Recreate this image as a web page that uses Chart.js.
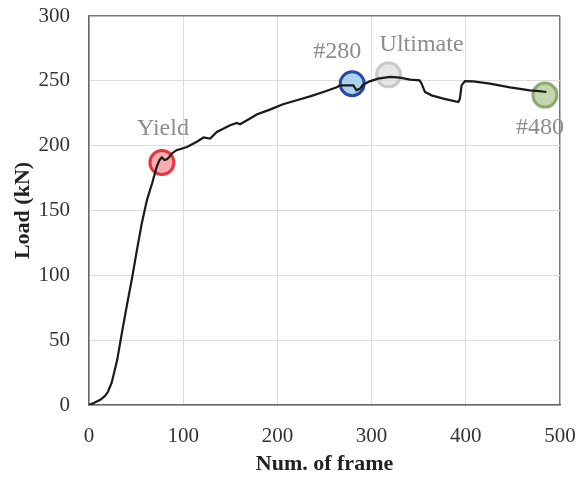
<!DOCTYPE html>
<html>
<head>
<meta charset="utf-8">
<script src="https://cdn.jsdelivr.net/npm/chart.js@4/dist/chart.umd.min.js"></script>
<style>
  html, body { margin: 0; padding: 0; background: #fff; }
  #wrap { width: 579px; height: 480px; }
</style>
</head>
<body>
<div id="wrap"><canvas id="chart"></canvas></div>
<script>
// load curve
const frames = [0, 5, 12, 17, 20, 24, 27, 30, 35, 40, 46, 51, 56, 61.5, 67, 72, 75, 77.4, 80, 82.7, 85, 88,
    93, 104, 114.5, 121.5, 128.6, 135.7, 149.8, 157, 160.4, 171, 178, 192, 206, 220.5, 234.7, 248.8, 263,
    266.5, 273.6, 280.6, 284, 287.7, 291, 298, 307, 319.5, 330, 340.7, 351, 353, 356.6, 363.7, 376, 392,
    393.7, 395.5, 399, 408, 425.5, 447, 468, 478, 485.6];
const loads = [0, 1.5, 4, 7, 10, 17, 26, 35, 56, 76, 99, 120, 140, 158, 171, 184, 189, 191, 189, 189.5, 191, 194,
    196.5, 199, 203, 206.3, 205.5, 210.6, 215.8, 217.5, 216.5, 221, 224, 227.8, 232, 235, 238, 241.4, 245,
    246.5, 246.5, 246.5, 242.7, 244, 247, 249.6, 251.7, 253, 252.5, 251, 250.4, 248, 241.4, 238.8, 236.3, 233.7,
    236, 246.5, 249.8, 249.6, 247.8, 245, 242.7, 242, 241.4];

// marked frames
const markNames = ['Yield', '#280', 'Ultimate', '#480'];
const markFrames = [77.4, 279.4, 318, 484];
const markLoads = [187, 247.8, 254.6, 239];
const markFill = ['rgba(240,120,125,0.6)', 'rgba(150,200,235,0.8)', 'rgba(215,215,215,0.6)', 'rgba(175,200,150,0.75)'];
const markBorder = ['#e8333a', '#2a48a6', '#c9c9c9', '#8aaa72'];
// label offsets in px from the marker (dx, dy to baseline)
const labelDx = [1, -15, 33, -5];
const labelDy = [-28, -26, -24, 39];

const xTicks = [0, 100, 200, 300, 400, 500];
const yTicks = [0, 50, 100, 150, 200, 250, 300];

const serif = '"Liberation Serif", "Times New Roman", serif';

const markLabels = {
    id: 'markLabels',
    afterDatasetsDraw(chart) {
        const { ctx, scales: { x, y } } = chart;
        ctx.save();
        ctx.font = '24px ' + serif;
        ctx.fillStyle = '#8c8c8c';
        ctx.textAlign = 'center';
        ctx.textBaseline = 'alphabetic';
        markNames.forEach((name, i) => {
            const px = x.getPixelForValue(markFrames[i]);
            const py = y.getPixelForValue(markLoads[i]);
            ctx.fillText(name, px + labelDx[i], py + labelDy[i]);
        });
        ctx.restore();
    }
};

const lineData = frames.map((f, i) => ({ x: f, y: loads[i] }));
const markData = markFrames.map((f, i) => ({ x: f, y: markLoads[i] }));

new Chart(document.getElementById('chart'), {
    type: 'scatter',
    data: {
        datasets: [
            {
                label: 'Load',
                data: lineData,
                showLine: true,
                borderColor: '#1a1a1a',
                borderWidth: 2.2,
                pointRadius: 0,
                tension: 0,
                order: 0
            },
            {
                label: 'marks',
                data: markData,
                pointRadius: 12,
                pointBorderWidth: 3,
                pointBackgroundColor: markFill,
                pointBorderColor: markBorder,
                order: 1
            }
        ]
    },
    options: {
        responsive: true,
        maintainAspectRatio: false,
        animation: false,
        layout: { padding: { top: 16, right: 19, left: 0, bottom: 0 } },
        plugins: { legend: { display: false }, tooltip: { enabled: false } },
        scales: {
            x: {
                type: 'linear',
                min: 0,
                max: 500,
                afterBuildTicks: s => { s.ticks = xTicks.map(v => ({ value: v })); },
                afterFit: s => { s.height = 75; },
                grid: {
                    color: c => c.tick && c.tick.value === 500 ? '#777' : '#dcdcdc',
                    lineWidth: c => c.tick && c.tick.value === 500 ? 1.5 : 1,
                    drawTicks: true,
                    tickLength: 19,
                    tickColor: 'rgba(0,0,0,0)'
                },
                border: { color: '#666', width: 1.5 },
                ticks: { padding: 0, color: '#333', font: { family: serif, size: 21 }, maxRotation: 0 },
                title: {
                    display: true,
                    text: 'Num. of frame',
                    color: '#222',
                    font: { family: serif, size: 22, weight: 'bold' },
                    padding: { top: 0, bottom: 2 }
                }
            },
            y: {
                min: 0,
                max: 300,
                afterBuildTicks: s => { s.ticks = yTicks.map(v => ({ value: v })); },
                afterFit: s => { s.width = 89; },
                grid: {
                    color: c => c.tick && c.tick.value === 300 ? '#777' : '#dcdcdc',
                    lineWidth: c => c.tick && c.tick.value === 300 ? 1.5 : 1,
                    drawTicks: true,
                    tickLength: 19,
                    tickColor: 'rgba(0,0,0,0)'
                },
                border: { color: '#666', width: 1.5 },
                ticks: { padding: 0, color: '#333', font: { family: serif, size: 21 } },
                title: {
                    display: true,
                    text: 'Load (kN)',
                    color: '#222',
                    font: { family: serif, size: 22, weight: 'bold' },
                    padding: { top: 10, bottom: 0 }
                }
            }
        }
    },
    plugins: [markLabels]
});
</script>
</body>
</html>
